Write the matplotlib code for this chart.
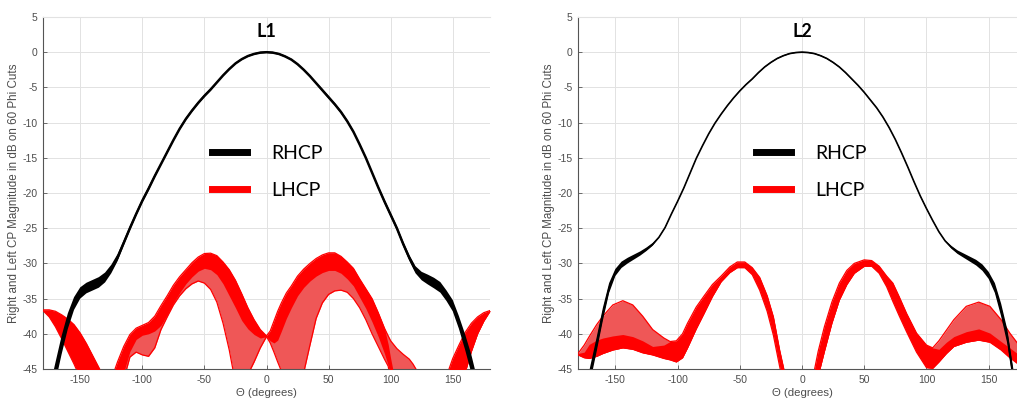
import numpy as np
import matplotlib
matplotlib.use("Agg")
import matplotlib.pyplot as plt
from matplotlib.lines import Line2D

plt.rcParams["axes.unicode_minus"] = False

# ---------------- data ----------------
theta_rhcp = list(range(-180, 181, 5))

l1_rhcp_db = [-60, -49.5, -45.5, -41.6, -38.2, -35.7, -34.2,
              -33.5, -33.1, -32.7, -32.0, -30.8, -29.2,
              -27.1, -25.0, -23.0, -21.1, -19.4, -17.6,
              -15.9, -14.2, -12.5, -10.9, -9.5, -8.3, -7.2, -6.2, -5.3,
              -4.3, -3.3, -2.4, -1.6, -1.0, -0.55, -0.25, -0.06, 0.0,
              -0.06, -0.25, -0.6, -1.05, -1.7, -2.5, -3.4, -4.4,
              -5.4, -6.4, -7.4, -8.5, -9.8, -11.3, -13.1, -15.0, -17.1,
              -19.2, -21.2, -23.1, -25.0, -27.2, -29.2,
              -30.9, -31.8, -32.3, -32.8, -33.4, -34.6,
              -36.0, -38.4, -41.2, -44.3, -48.0, -52.0, -60.0]
l1_rhcp_spread = ([1.5, 1.5, 1.4, 1.3, 1.1, 0.9, 0.8] + [0.75, 0.75, 0.75, 0.7, 0.6, 0.5]
                  + [0.4, 0.35, 0.3, 0.3, 0.3, 0.25] + [0.2] * 9 + [0.12] * 17 + [0.2] * 9
                  + [0.25, 0.3, 0.3, 0.3, 0.35, 0.4] + [0.5, 0.6, 0.7, 0.75, 0.75, 0.75]
                  + [0.8, 0.9, 1.1, 1.3, 1.4, 1.5, 1.5])

l2_rhcp_db = [-58, -50, -45.6, -41.5, -37.2, -33.5, -31.3,
              -30.2, -29.6, -29.1, -28.6, -28.0, -27.3,
              -26.3, -24.9, -23.0, -21.2, -19.3, -17.2, -15.1, -13.3, -11.6, -10.1,
              -8.8, -7.6, -6.5, -5.5, -4.6, -3.8, -2.9, -2.1, -1.45, -0.9, -0.5, -0.2, -0.05, 0.0,
              -0.05, -0.2, -0.5, -0.9, -1.45, -2.1, -2.9, -3.8, -4.7, -5.7, -6.8, -7.9, -9.2,
              -10.7, -12.4, -14.3, -16.3, -18.4, -20.4, -22.2, -23.9, -25.5, -26.8,
              -27.7, -28.4, -28.9, -29.4, -29.9, -30.6,
              -31.7, -33.5, -36.6, -40.4, -46.3, -52, -58]
l2_rhcp_spread = ([1.2, 1.2, 1.1, 1.0, 0.9, 0.7, 0.5] + [0.45, 0.4, 0.35, 0.3, 0.25, 0.2]
                  + [0.08] * 47 + [0.2, 0.25, 0.3, 0.35, 0.4, 0.45]
                  + [0.5, 0.7, 0.9, 1.0, 1.1, 1.2, 1.2])

# L1 LHCP bands: envelope of the 60 cuts (upper / lower), and dense (solid) part
l1_a_theta = [-180, -175, -170, -165, -160, -155, -150, -145, -140, -135, -130]
l1_a_upper = [-36.6, -36.6, -36.8, -37.3, -37.9, -38.7, -39.9, -41.4, -43.1, -44.8, -46.5]
l1_a_lower = [-36.7, -37.6, -39.0, -40.7, -42.5, -44.3, -46.3, -48.5, -51, -53.5, -56]

l1_b_theta = [-124, -120, -115, -110, -105, -100, -95, -90, -85, -80, -75, -70, -65,
              -60, -55, -50, -45, -40, -35, -30, -25, -20, -15, -10, -5, 0]
l1_b_upper = [-46.0, -44.0, -41.8, -40.1, -39.2, -38.8, -38.4, -37.5, -36.0, -34.6, -33.1,
              -31.9, -30.9, -29.9, -29.1, -28.6, -28.55, -28.9, -29.8, -30.9, -32.4, -34.3,
              -36.3, -38.0, -39.4, -40.3]
l1_b_dense = [-60, -50, -45.5, -42.5, -40.8, -40.2, -40.0, -39.6, -38.8, -37.3, -35.6,
              -34.2, -32.9, -31.9, -31.1, -30.7, -30.9, -31.6, -32.9, -34.6, -36.3, -38.1,
              -39.3, -40.1, -40.6, -40.4]
l1_b_lower = [-60, -52, -46.5, -43.3, -42.6, -43.0, -43.2, -42.0, -39.4, -37.6, -35.9,
              -34.6, -33.6, -32.9, -32.5, -32.8, -33.7, -35.5, -38.5, -42.3, -47, -47,
              -45.8, -44.0, -42.0, -40.4]

l1_c_theta = [0, 3, 6, 9, 12, 16, 20, 25, 30, 35, 40, 45, 50, 55, 60, 65, 70, 75, 80, 85,
              90, 95, 98, 100, 105, 110, 115, 118, 121, 124]
l1_c_upper = [-40.3, -39.6, -38.2, -36.8, -35.6, -34.2, -33.2, -31.8, -30.8, -30.0, -29.3,
              -28.8, -28.5, -28.5, -29.0, -29.8, -30.7, -32.2, -33.6, -35.0, -37.0, -39.2,
              -40.3, -41.0, -42.1, -42.9, -43.6, -44.3, -45.2, -47]
l1_c_dense_top = [-40.3, -39.6, -38.2, -36.8, -35.6, -34.2, -33.2, -31.8, -30.8, -30.0,
                  -29.3, -28.8, -28.5, -28.5, -29.0, -29.8, -30.7, -32.2, -33.6, -35.0,
                  -37.0, -39.2, -41.5, -43.5, -48, -50, -50, -50, -50, -50]
l1_c_dense = [-40.4, -41.0, -41.3, -40.9, -39.6, -37.8, -36.3, -34.6, -33.4, -32.5, -31.8,
              -31.3, -31.0, -31.0, -31.4, -32.2, -33.2, -34.8, -36.4, -38.3, -40.4, -42.8,
              -44.5, -46, -50, -50, -50, -50, -50, -50]
l1_c_lower = [-40.4, -41.3, -42.6, -44.0, -45.3, -46.5, -47.2, -47, -45.5, -41.6, -37.8,
              -35.6, -34.4, -33.9, -33.8, -34.1, -35.0, -36.3, -38.0, -40.0, -41.8, -43.6,
              -44.6, -46.5, -48, -50, -50, -50, -50, -50]

l1_d_theta = [145, 147, 150, 155, 160, 165, 170, 175, 180]
l1_d_upper = [-46.3, -45.0, -43.5, -41.6, -39.8, -38.5, -37.6, -37.0, -36.7]
l1_d_lower = [-60, -57, -54, -49.5, -45.5, -42.5, -40.0, -38.2, -36.8]

# L2 LHCP bands
l2_e_theta = [-180, -175, -171, -165, -160, -152, -144, -136, -128, -120, -111, -106, -101,
              -96, -92, -85, -79, -72, -65, -58, -52, -46, -40, -34, -28, -23, -18, -14, -10]
l2_e_upper = [-42.8, -41.6, -40.4, -38.7, -37.5, -35.9, -35.3, -35.9, -37.5, -39.4, -40.6,
              -41.1, -41.0, -40.0, -38.5, -36.2, -34.7, -33.0, -31.8, -30.5, -29.8, -29.8,
              -30.6, -32.0, -34.6, -37.6, -42.3, -45.5, -49]
l2_e_dense_top = [-42.8, -42.6, -41.5, -40.9, -40.6, -40.3, -40.1, -40.4, -41.0, -41.8,
                  -41.6, -41.1, -41.0, -40.0, -38.5, -36.2, -34.7, -33.0, -31.8, -30.5,
                  -29.8, -29.8, -30.6, -32.0, -34.6, -37.6, -42.3, -45.5, -49]
l2_e_lower = [-43.0, -43.4, -43.5, -43.2, -42.8, -42.3, -42.0, -42.2, -42.7, -43.0, -43.5,
              -43.7, -44.0, -43.4, -42.0, -39.3, -37.2, -34.7, -32.6, -31.3, -30.6, -30.6,
              -31.6, -33.8, -36.8, -40.2, -44.6, -48, -52]

l2_f_theta = [5, 9, 13, 18, 24, 30, 36, 42, 50, 56, 62, 68, 73, 78, 84, 92, 100, 105, 110,
              116, 122, 132, 142, 151, 160, 167, 173, 180]
l2_f_upper = [-52, -46, -42.5, -39.0, -35.5, -32.8, -31.0, -30.0, -29.5, -29.6, -30.4, -31.8,
              -32.8, -34.7, -37.1, -39.9, -41.6, -42.0, -41.0, -39.5, -38.0, -36.1, -35.5,
              -36.1, -38.0, -39.9, -41.3, -42.8]
l2_f_dense_top = [-52, -46, -42.5, -39.0, -35.5, -32.8, -31.0, -30.0, -29.5, -29.6, -30.4,
                  -31.8, -32.8, -34.7, -37.1, -39.9, -41.6, -42.0, -42.2, -41.2, -40.4,
                  -39.7, -39.3, -39.9, -41.1, -42.0, -42.8, -43.0]
l2_f_lower = [-56, -50, -46, -42.5, -38.5, -35.2, -33.0, -31.4, -30.4, -30.4, -31.4, -33.3,
              -35.4, -37.4, -39.7, -42.6, -44.8, -44.9, -44.0, -42.8, -41.8, -41.2, -40.9,
              -41.2, -42.3, -43.4, -44.2, -43.2]

x_ticks = [-150, -100, -50, 0, 50, 100, 150]
y_ticks = [-45, -40, -35, -30, -25, -20, -15, -10, -5, 0, 5]
legend_labels = ["RHCP", "LHCP"]
titles = ["L1", "L2"]

# ---------------- styling ----------------
RED = "#ff0000"
MESH = "#ef5757"
TICK_C = "#4d4d4d"
GRID_C = "#e2e2e2"

fig = plt.figure(figsize=(10.17, 4.0), dpi=100)
ax1 = fig.add_axes([43 / 1017, 31 / 400, 447 / 1017, 352 / 400])
ax2 = fig.add_axes([578 / 1017, 31 / 400, 448 / 1017, 352 / 400])


def band(ax, th, up, lo, dense_top=None, dense_lo=None):
    th = np.asarray(th)
    ax.fill_between(th, lo, up, color=MESH, lw=0, zorder=2)
    dt = up if dense_top is None else dense_top
    dl = lo if dense_lo is None else dense_lo
    ax.fill_between(th, dl, dt, color=RED, lw=0, zorder=3)
    ax.plot(th, up, color=RED, lw=0.9, zorder=3)
    ax.plot(th, lo, color=RED, lw=0.9, zorder=3)


def rhcp(ax, db, spread, lw):
    th = np.asarray(theta_rhcp)
    db = np.asarray(db)
    sp = np.asarray(spread)
    ax.fill_between(th, db - sp, db + sp, color="black", lw=0, zorder=5)
    ax.plot(th, db, color="black", lw=lw, zorder=5)


def style(ax, title, leg_x):
    ax.set_xlim(-180, 180)
    ax.set_ylim(-45, 5)
    ax.set_xticks(x_ticks)
    ax.set_yticks(y_ticks)
    ax.grid(True, color=GRID_C, lw=0.7)
    ax.set_axisbelow(True)
    for s in ["left", "bottom"]:
        ax.spines[s].set_color("#555555")
        ax.spines[s].set_linewidth(0.8)
    ax.spines["top"].set_color(GRID_C)
    ax.spines["right"].set_visible(False)
    ax.tick_params(direction="in", length=3, width=0.6, colors="#555555",
                   labelsize=7.5, labelcolor=TICK_C, pad=4)
    ax.tick_params(axis="x", top=False)
    for lab in ax.get_xticklabels() + ax.get_yticklabels():
        lab.set_family("Liberation Sans")
    ax.set_xlabel("\u0398 (degrees)", fontsize=8.2, color=TICK_C, labelpad=2.5,
                  family="Liberation Sans")
    ax.set_ylabel("Right and Left CP Magnitude in dB on 60 Phi Cuts", fontsize=8.4,
                  color=TICK_C, labelpad=2, family="Liberation Sans")
    ax.text(0.5, 0.96, title, transform=ax.transAxes, ha="center", va="center",
            fontsize=13, fontweight="bold", family="Lato", zorder=10)
    handles = [Line2D([], [], color="black", lw=5), Line2D([], [], color=RED, lw=5)]
    leg = ax.legend(handles, legend_labels, loc="center left",
                    bbox_to_anchor=(leg_x, 0.56), frameon=False, handlelength=1.8,
                    handletextpad=1.25, labelspacing=1.05, borderpad=0, borderaxespad=0,
                    prop={"family": "Lato", "size": 14})
    leg.set_zorder(10)


# L1
band(ax1, l1_a_theta, l1_a_upper, l1_a_lower)
band(ax1, l1_b_theta, l1_b_upper, l1_b_lower, dense_top=l1_b_upper, dense_lo=l1_b_dense)
band(ax1, l1_c_theta, l1_c_upper, l1_c_lower, dense_top=l1_c_dense_top, dense_lo=l1_c_dense)
band(ax1, l1_d_theta, l1_d_upper, l1_d_lower)
rhcp(ax1, l1_rhcp_db, l1_rhcp_spread, 1.8)
style(ax1, titles[0], 0.378)

# L2
band(ax2, l2_e_theta, l2_e_upper, l2_e_lower, dense_top=l2_e_dense_top, dense_lo=l2_e_lower)
band(ax2, l2_f_theta, l2_f_upper, l2_f_lower, dense_top=l2_f_dense_top, dense_lo=l2_f_lower)
rhcp(ax2, l2_rhcp_db, l2_rhcp_spread, 1.2)
style(ax2, titles[1], 0.398)

fig.savefig("out.png", dpi=100)
